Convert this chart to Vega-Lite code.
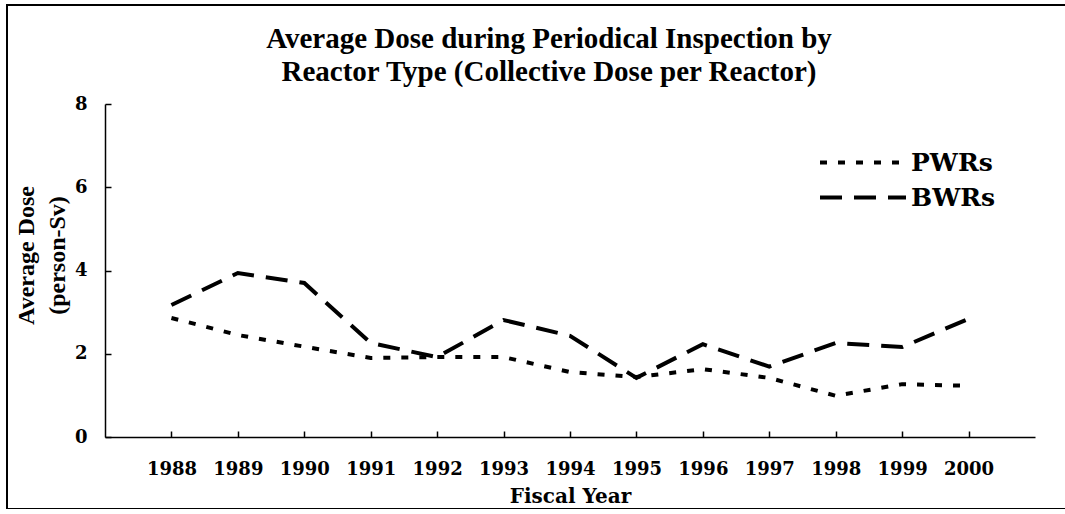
{
  "$schema": "https://vega.github.io/schema/vega-lite/v6.json",
  "width": 1064,
  "height": 504,
  "autosize": {"type": "none"},
  "padding": {"left": 7, "top": 5, "right": 0, "bottom": 0},
  "background": "white",
  "config": {"view": {"stroke": "black", "strokeWidth": 2}},
  "title": {
    "text": ["Average Dose during Periodical Inspection by", "Reactor Type (Collective Dose per Reactor)"],
    "font": "Liberation Serif",
    "fontSize": 29,
    "fontWeight": "bold",
    "color": "black",
    "anchor": "middle",
    "frame": "group",
    "baseline": "top",
    "offset": -82,
    "dx": 10,
    "lineHeight": 33
  },
  "data": {
    "values": [
      {"year": "1988", "type": "PWRs", "dose": 2.86},
      {"year": "1989", "type": "PWRs", "dose": 2.45},
      {"year": "1990", "type": "PWRs", "dose": 2.17},
      {"year": "1991", "type": "PWRs", "dose": 1.9},
      {"year": "1992", "type": "PWRs", "dose": 1.92},
      {"year": "1993", "type": "PWRs", "dose": 1.92},
      {"year": "1994", "type": "PWRs", "dose": 1.56},
      {"year": "1995", "type": "PWRs", "dose": 1.44},
      {"year": "1996", "type": "PWRs", "dose": 1.63},
      {"year": "1997", "type": "PWRs", "dose": 1.42},
      {"year": "1998", "type": "PWRs", "dose": 0.99},
      {"year": "1999", "type": "PWRs", "dose": 1.27},
      {"year": "2000", "type": "PWRs", "dose": 1.23},
      {"year": "1988", "type": "BWRs", "dose": 3.17},
      {"year": "1989", "type": "BWRs", "dose": 3.94},
      {"year": "1990", "type": "BWRs", "dose": 3.7},
      {"year": "1991", "type": "BWRs", "dose": 2.26},
      {"year": "1992", "type": "BWRs", "dose": 1.92},
      {"year": "1993", "type": "BWRs", "dose": 2.81},
      {"year": "1994", "type": "BWRs", "dose": 2.43},
      {"year": "1995", "type": "BWRs", "dose": 1.42},
      {"year": "1996", "type": "BWRs", "dose": 2.23},
      {"year": "1997", "type": "BWRs", "dose": 1.69},
      {"year": "1998", "type": "BWRs", "dose": 2.26},
      {"year": "1999", "type": "BWRs", "dose": 2.16},
      {"year": "2000", "type": "BWRs", "dose": 2.84}
    ]
  },
  "mark": {"type": "line", "color": "black", "strokeWidth": 4, "strokeCap": "butt"},
  "encoding": {
    "x": {
      "field": "year",
      "type": "ordinal",
      "scale": {"type": "point", "range": [98, 1028], "padding": 1},
      "axis": {
        "orient": "bottom",
        "offset": -72,
        "title": "Fiscal Year",
        "labelAngle": 0,
        "labelFont": "DejaVu Serif",
        "labelFontWeight": "bold",
        "labelFontSize": 18,
        "labelColor": "black",
        "labelPadding": 29,
        "tickSize": -6,
        "tickColor": "black",
        "tickWidth": 1.5,
        "domainColor": "black",
        "domainWidth": 1.5,
        "titleFont": "DejaVu Serif",
        "titleFontWeight": "bold",
        "titleFontSize": 20,
        "titleColor": "black",
        "titlePadding": 8
      }
    },
    "y": {
      "field": "dose",
      "type": "quantitative",
      "scale": {"domain": [0, 8], "range": [432, 99], "nice": false, "zero": true},
      "axis": {
        "offset": -98,
        "values": [0, 2, 4, 6, 8],
        "grid": false,
        "tickSize": -6,
        "tickColor": "black",
        "tickWidth": 1.5,
        "domainColor": "black",
        "domainWidth": 1.5,
        "labelFont": "DejaVu Serif",
        "labelFontWeight": "bold",
        "labelFontSize": 18,
        "labelColor": "black",
        "labelPadding": 24,
        "title": ["Average Dose", "(person-Sv)"],
        "titleFont": "Liberation Serif",
        "titleFontWeight": "bold",
        "titleFontSize": 24,
        "titleColor": "black",
        "titleAngle": -90,
        "titleBaseline": "middle",
        "titleAlign": "center",
        "titleLineHeight": 31,
        "titleX": -79,
        "titleY": 250
      }
    },
    "strokeDash": {
      "field": "type",
      "type": "nominal",
      "scale": {"domain": ["PWRs", "BWRs"], "range": [[7, 11], [22, 12]]},
      "legend": {
        "title": null,
        "orient": "none",
        "legendX": 811,
        "legendY": 140,
        "symbolType": "stroke",
        "symbolSize": 7396,
        "symbolStrokeWidth": 4,
        "symbolStrokeColor": "black",
        "labelFont": "DejaVu Serif",
        "labelFontWeight": "bold",
        "labelFontSize": 25,
        "labelColor": "black",
        "labelOffset": 3,
        "clipHeight": 35,
        "rowPadding": 0
      }
    }
  }
}
